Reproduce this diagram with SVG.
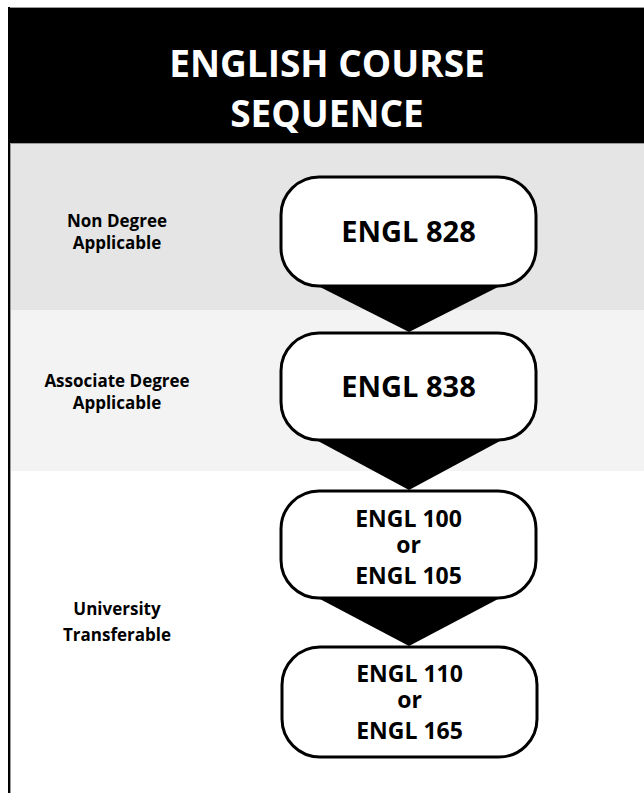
<svg xmlns="http://www.w3.org/2000/svg" width="644" height="793" viewBox="0 0 644 793">
<style>
.node rect{fill:#fff;stroke:#000;stroke-width:3}
.t{font-family:"Open Sans","Liberation Sans",sans-serif;font-weight:bold;text-anchor:middle;fill:#000}
.title{font-family:"Open Sans","Liberation Sans",sans-serif;font-weight:bold;text-anchor:middle;fill:#fff;font-size:37px}
.lbl{font-size:17px}
.big{font-size:29px}
.mid{font-size:23px}
.edge{stroke:#9a9a9a;stroke-width:1}
</style>
<rect x="0" y="0" width="644" height="793" fill="#fff"/>
<g id="background">
<rect x="8" y="7" width="636" height="136" fill="#000"/>
<line class="edge" x1="8" y1="7.5" x2="644" y2="7.5"/>
<rect x="10" y="143" width="634" height="167" fill="#e5e5e5"/>
<rect x="10" y="310" width="634" height="161" fill="#f3f3f3"/>
<line class="edge" x1="10" y1="143.5" x2="644" y2="143.5"/>
<line class="edge" x1="10.5" y1="143" x2="10.5" y2="793"/>
<rect x="8" y="7" width="2" height="786" fill="#000"/>
</g>
<g id="title">
<text class="title" x="327" y="77">ENGLISH COURSE<tspan x="327" dy="50">SEQUENCE</tspan></text>
</g>
<g id="labels">
<text class="t lbl" x="117" y="227">Non Degree<tspan x="117" dy="22">Applicable</tspan></text>
<text class="t lbl" x="117" y="387">Associate Degree<tspan x="117" dy="22">Applicable</tspan></text>
<text class="t lbl" x="117" y="615">University<tspan x="117" dy="26">Transferable</tspan></text>
</g>
<g id="connectors">
<polygon points="318,286 500,286 409,332" fill="#000"/>
<polygon points="318,441 500,441 409,490" fill="#000"/>
<polygon points="318,598 500,598 409,646" fill="#000"/>
</g>
<g id="n828" class="node">
<rect x="281" y="177" width="255" height="109" rx="38" ry="38"/>
<text class="t big" x="408.5" y="242">ENGL 828</text>
</g>
<g id="n838" class="node">
<rect x="281" y="333" width="255" height="107" rx="38" ry="38"/>
<text class="t big" x="408.5" y="397">ENGL 838</text>
</g>
<g id="n100" class="node">
<rect x="281" y="491" width="255" height="107" rx="38" ry="38"/>
<text class="t mid" x="408.5" y="527">ENGL 100<tspan x="408.5" dy="26">or</tspan><tspan x="408.5" dy="31">ENGL 105</tspan></text>
</g>
<g id="n110" class="node">
<rect x="282" y="647" width="255" height="110" rx="38" ry="38"/>
<text class="t mid" x="409.5" y="682">ENGL 110<tspan x="409.5" dy="26">or</tspan><tspan x="409.5" dy="31">ENGL 165</tspan></text>
</g>
</svg>
